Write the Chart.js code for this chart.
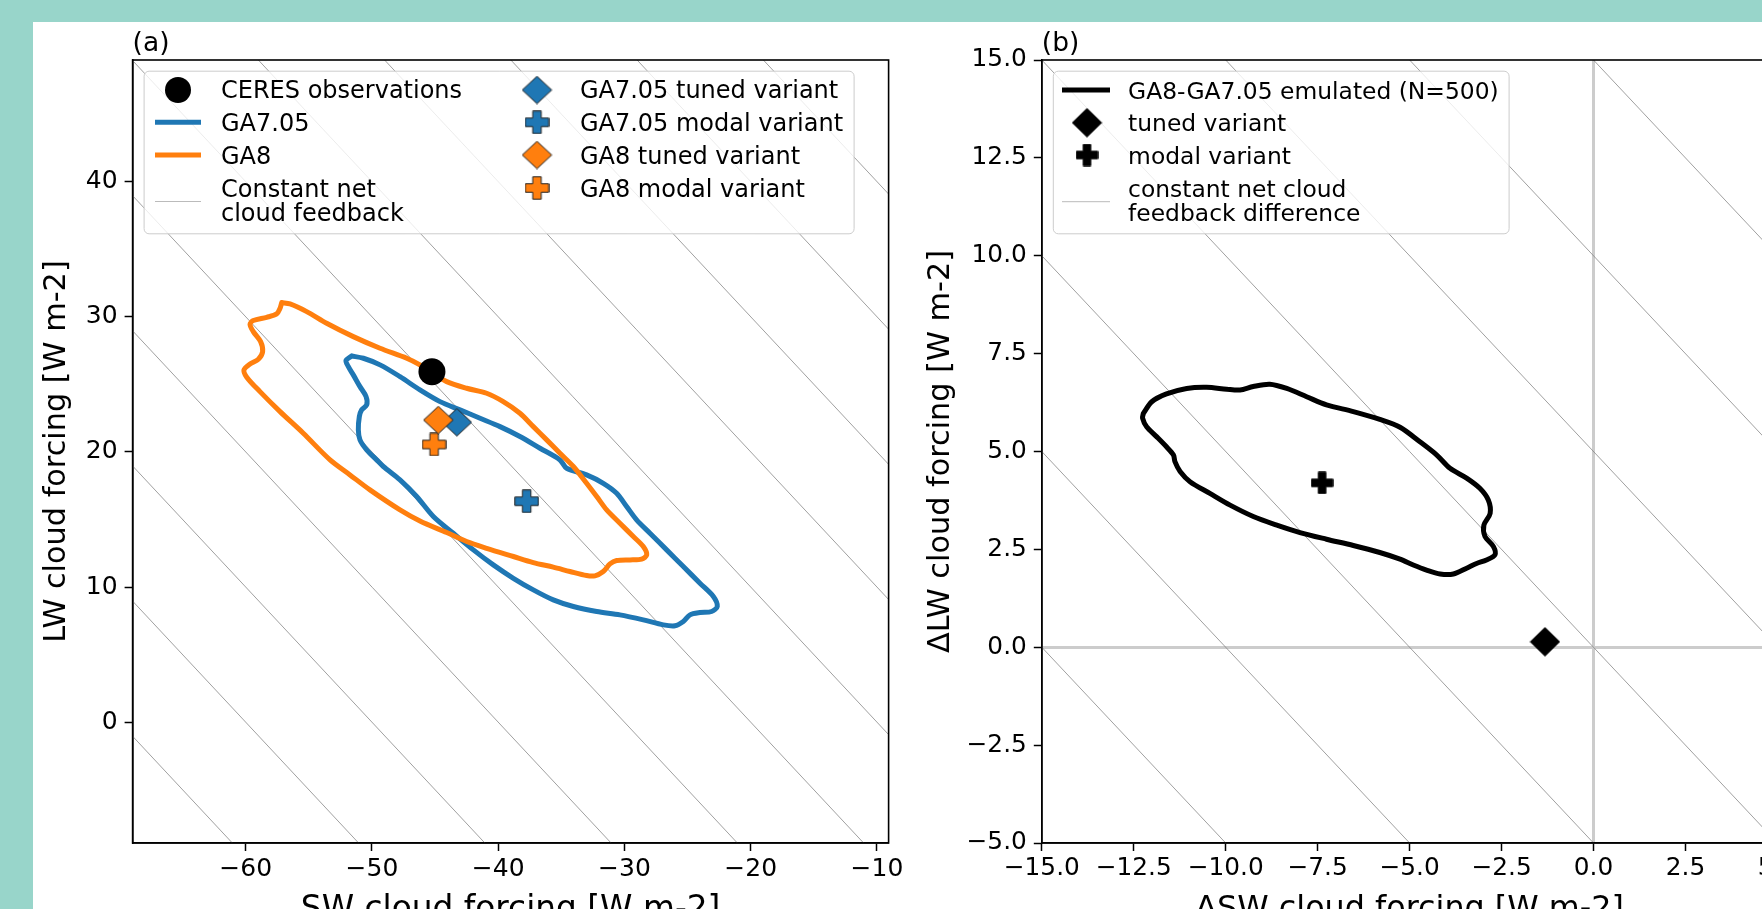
<!DOCTYPE html>
<html><head><meta charset="utf-8">
<script src="https://cdn.jsdelivr.net/npm/chart.js@4.4.1/dist/chart.umd.min.js"></script>
<style>
html,body{margin:0;padding:0;width:1762px;height:909px;overflow:hidden;background:#98d5ca;}
#white{position:absolute;left:33px;top:22px;width:1729px;height:887px;background:#fff;}
#ca{position:absolute;left:33px;top:22px;}
#cb{position:absolute;left:917px;top:22px;}
</style></head><body>
<div id="white"></div>
<canvas id="ca" width="880" height="940"></canvas>
<canvas id="cb" width="940" height="940"></canvas>
<script>
// ---------------- data ----------------
const xTicksA = [-60, -50, -40, -30, -20, -10];
const yTicksA = [0, 10, 20, 30, 40];
const xLimA = [-68.96, -9.08];
const yLimA = [-8.94, 49.0];
const netLevelsA = [-70, -60, -50, -40, -30, -20, -10, 0, 10, 20, 30];

const xTicksB = [-15, -12.5, -10, -7.5, -5, -2.5, 0, 2.5, 5];
const yTicksB = [-5, -2.5, 0, 2.5, 5, 7.5, 10, 12.5, 15];
const xLimB = [-15, 5];
const yLimB = [-5, 15];
const netLevelsB = [-20, -15, -10, -5, 0, 5, 10, 15, 20];

const ceresObs = [[-45.25, 25.93]];
const ga705Tuned = [[-43.28, 22.19]];
const ga705Modal = [[-37.75, 16.35]];
const ga8Tuned = [[-44.75, 22.36]];
const ga8Modal = [[-45.08, 20.55]];
const diffTuned = [[-1.32, 0.14]];
const diffModal = [[-7.38, 4.20]];

const ga705Contour = [
 [-51.61,27.10],[-50.68,26.93],[-49.36,26.44],[-47.78,25.57],[-46.20,24.59],[-44.61,23.72],
 [-43.03,23.11],[-41.44,22.49],[-39.86,21.87],[-38.28,21.14],[-36.69,20.27],[-35.11,19.41],
 [-34.58,18.79],[-33.00,18.30],[-31.68,17.68],[-30.62,16.94],[-29.83,15.96],[-29.04,14.97],
 [-27.98,13.98],[-26.66,12.75],[-25.34,11.52],[-24.02,10.28],[-22.96,9.30],[-22.65,8.56],
 [-23.10,8.19],[-24.02,8.11],[-24.81,7.94],[-25.34,7.45],[-26.00,7.13],[-26.92,7.20],
 [-28.51,7.57],[-30.36,7.94],[-32.20,8.19],[-34.05,8.56],[-35.64,9.05],[-37.22,9.79],
 [-38.80,10.65],[-40.39,11.64],[-41.97,12.75],[-43.56,13.98],[-45.14,15.22],[-46.46,16.70],
 [-47.78,17.93],[-49.10,18.92],[-49.63,19.41],[-50.42,20.15],[-50.95,20.89],[-51.08,21.63],
 [-51.00,22.62],[-50.82,23.11],[-50.42,23.48],[-50.47,24.10],[-50.95,24.83],[-51.48,25.70],
 [-51.87,26.31],[-52.06,26.76]
];
const ga8Contour = [
 [-57.15,31.05],[-56.49,30.95],[-55.17,30.38],[-53.59,29.52],[-51.48,28.53],[-49.36,27.67],
 [-47.25,26.93],[-46.20,26.44],[-45.14,25.82],[-44.08,25.20],[-42.50,24.71],[-40.92,24.34],
 [-39.60,23.72],[-38.28,22.86],[-37.22,21.87],[-36.16,20.89],[-35.11,19.90],[-34.05,18.92],
 [-33.00,17.68],[-32.20,16.70],[-31.41,15.71],[-30.36,14.72],[-29.30,13.74],[-28.51,13.00],
 [-28.24,12.38],[-28.64,12.06],[-29.56,12.01],[-30.62,11.96],[-31.15,11.71],[-31.68,11.15],
 [-32.34,10.83],[-33.00,10.85],[-34.32,11.15],[-35.64,11.47],[-37.22,11.81],[-38.80,12.26],
 [-40.92,12.87],[-42.50,13.37],[-44.08,14.03],[-46.20,14.89],[-47.78,15.71],[-50.16,17.19],
 [-51.74,18.30],[-53.32,19.41],[-55.44,21.38],[-57.28,22.98],[-58.87,24.46],[-59.92,25.53],
 [-60.14,26.07],[-59.66,26.51],[-59.00,26.86],[-58.66,27.42],[-58.82,28.16],[-59.40,28.90],
 [-59.66,29.45],[-59.40,29.72],[-58.34,29.96],[-57.55,30.21],[-57.28,30.63]
];
const diffContour = [
 [-12.24,5.97],[-12.01,6.27],[-11.61,6.47],[-11.06,6.61],[-10.52,6.64],[-9.97,6.59],[-9.61,6.57],
 [-9.25,6.66],[-8.80,6.72],[-8.34,6.61],[-7.80,6.40],[-7.26,6.19],[-6.53,6.02],[-5.81,5.82],
 [-5.26,5.62],[-4.72,5.25],[-4.26,4.91],[-3.90,4.57],[-3.45,4.32],[-3.09,4.06],[-2.86,3.76],
 [-2.81,3.42],[-2.98,3.12],[-2.95,2.83],[-2.72,2.57],[-2.68,2.36],[-2.91,2.23],[-3.18,2.14],
 [-3.45,2.02],[-3.81,1.87],[-4.17,1.87],[-4.54,1.97],[-4.90,2.10],[-5.26,2.25],[-5.81,2.42],
 [-6.53,2.60],[-7.26,2.76],[-7.98,2.93],[-8.61,3.12],[-9.25,3.34],[-9.88,3.63],[-10.43,3.93],
 [-10.97,4.23],[-11.24,4.49],[-11.38,4.74],[-11.42,4.91],[-11.61,5.12],[-11.88,5.38],
 [-12.15,5.63],[-12.26,5.85]
];

// ---------------- helpers ----------------
const FONT = "'DejaVu Sans', sans-serif";
const BLUE = '#1f77b4', ORANGE = '#ff7f0e';
const pts = arr => arr.map(([x, y]) => ({x, y}));
const loop = arr => pts(arr.concat([arr[0]]));
const netLine = (c, xl) => [{x: xl[0], y: c - xl[0]}, {x: xl[1], y: c - xl[1]}];

function makeDiamond(fill, w, h, edge) {
  const c = document.createElement('canvas'); c.width = w; c.height = h;
  const g = c.getContext('2d'); const e = 0.8;
  g.beginPath(); g.moveTo(w/2, e); g.lineTo(w-e, h/2); g.lineTo(w/2, h-e); g.lineTo(e, h/2); g.closePath();
  g.fillStyle = fill; g.fill(); g.lineWidth = 1; g.strokeStyle = edge; g.stroke();
  return c;
}
function makePlus(fill, w, h, t, edge) {
  const c = document.createElement('canvas'); c.width = w; c.height = h;
  const g = c.getContext('2d'); const cx = w/2, cy = h/2, a = t/2, e = 0.8;
  g.beginPath();
  g.moveTo(cx-a, e); g.lineTo(cx+a, e); g.lineTo(cx+a, cy-a); g.lineTo(w-e, cy-a); g.lineTo(w-e, cy+a);
  g.lineTo(cx+a, cy+a); g.lineTo(cx+a, h-e); g.lineTo(cx-a, h-e); g.lineTo(cx-a, cy+a); g.lineTo(e, cy+a);
  g.lineTo(e, cy-a); g.lineTo(cx-a, cy-a); g.closePath();
  g.fillStyle = fill; g.fill(); g.lineWidth = 1; g.strokeStyle = edge; g.stroke();
  return c;
}
const imgBlueD = makeDiamond(BLUE, 31, 29, '#222');
const imgOrangeD = makeDiamond(ORANGE, 31, 29, '#222');
const imgBlueP = makePlus(BLUE, 25, 24, 8.5, '#222');
const imgOrangeP = makePlus(ORANGE, 25, 24, 8.5, '#222');
const imgBlackD = makeDiamond('#000', 31, 30, '#000');
const imgBlackP = makePlus('#000', 23, 23, 7.5, '#000');

const fmtA = v => (v < 0 ? '\u2212' : '') + Math.abs(v);
const fmtB = v => (v < 0 ? '\u2212' : '') + Math.abs(v).toFixed(1);

function axis(lim, ticks, fmt, title, horiz, size, zeroGrid, tickSize, titleSize, titlePad) {
  return {
    type: 'linear', min: lim[0], max: lim[1],
    afterBuildTicks: a => { a.ticks = ticks.map(v => ({value: v})); },
    afterFit: s => {
      if (horiz) { s.height = size; s.paddingLeft = 0; s.paddingRight = 0; }
      else { s.width = size; s.paddingTop = 0; s.paddingBottom = 0; }
    },
    ticks: {font: {family: FONT, size: tickSize}, color: '#000', padding: horiz ? 3 : 7,
            maxRotation: 0, minRotation: 0, autoSkip: false, callback: v => fmt(v)},
    grid: {
      drawOnChartArea: !!zeroGrid,
      color: c => (zeroGrid && c.tick && c.tick.value === 0) ? '#cccccc' : 'rgba(0,0,0,0)',
      lineWidth: c => (zeroGrid && c.tick && c.tick.value === 0) ? 3 : 1,
      drawTicks: true, tickLength: 8, tickColor: '#000', tickWidth: 1.5
    },
    border: {display: true, color: '#000', width: 1.6},
    title: {display: true, text: title, font: {family: FONT, size: titleSize}, color: '#000',
            padding: horiz ? {top: 0, bottom: titlePad} : {top: titlePad, bottom: 0}}
  };
}

const spines = {
  id: 'spines',
  afterDatasetsDraw(chart) {
    const {ctx, chartArea: a} = chart;
    ctx.save(); ctx.strokeStyle = '#000'; ctx.lineWidth = 1.6;
    ctx.strokeRect(a.left, a.top, a.right - a.left, a.bottom - a.top); ctx.restore();
  }
};

function legendPlugin(id, label, spec) {
  return {
    id,
    afterDraw(chart) {
      const {ctx, chartArea: a} = chart;
      const L = a.left, T = a.top;
      ctx.save();
      ctx.font = '26.5px ' + FONT; ctx.fillStyle = '#000'; ctx.textAlign = 'left'; ctx.textBaseline = 'alphabetic';
      ctx.fillText(label, L, T - 9.5);
      const b = spec.box;
      ctx.beginPath();
      ctx.roundRect(L + b[0] + 0.5, T + b[1] + 0.5, b[2], b[3], 5);
      ctx.fillStyle = 'rgba(255,255,255,0.8)'; ctx.fill();
      ctx.strokeStyle = '#cccccc'; ctx.lineWidth = 1; ctx.stroke();
      for (const it of spec.items) {
        if (it.line) {
          ctx.beginPath(); ctx.moveTo(L + it.line[0], T + it.y); ctx.lineTo(L + it.line[1], T + it.y);
          ctx.strokeStyle = it.color; ctx.lineWidth = it.width; ctx.lineCap = 'butt'; ctx.stroke();
        } else if (it.circle) {
          ctx.beginPath(); ctx.arc(L + it.mx, T + it.y, it.circle, 0, Math.PI * 2);
          ctx.fillStyle = it.color; ctx.fill();
        } else if (it.img) {
          ctx.drawImage(it.img, L + it.mx - it.img.width / 2, T + it.y - it.img.height / 2);
        }
        ctx.font = spec.font; ctx.fillStyle = '#000'; ctx.textAlign = 'left'; ctx.textBaseline = 'alphabetic';
        it.text.forEach((t, i) => ctx.fillText(t, L + it.tx, T + it.base[i]));
      }
      ctx.restore();
    }
  };
}

const legendA = {
  font: '24px ' + FONT,
  box: [11, 10.7, 710, 162.6],
  items: [
    {circle: 13, color: '#000', mx: 45.4, y: 30, tx: 88.4, base: [38.3], text: ['CERES observations']},
    {line: [22.4, 68.4], color: BLUE, width: 5, y: 62.3, tx: 88.4, base: [70.8], text: ['GA7.05']},
    {line: [22.4, 68.4], color: ORANGE, width: 5, y: 95, tx: 88.4, base: [103.5], text: ['GA8']},
    {line: [22.4, 68.4], color: '#bbbbbb', width: 1, y: 141.5, tx: 88.4, base: [136.5, 161], text: ['Constant net', 'cloud feedback']},
    {img: imgBlueD, mx: 404.4, y: 30, tx: 447.3, base: [38.3], text: ['GA7.05 tuned variant']},
    {img: imgBlueP, mx: 404.4, y: 62.3, tx: 447.3, base: [70.8], text: ['GA7.05 modal variant']},
    {img: imgOrangeD, mx: 404.4, y: 95, tx: 447.3, base: [103.5], text: ['GA8 tuned variant']},
    {img: imgOrangeP, mx: 404.4, y: 128, tx: 447.3, base: [136.5], text: ['GA8 modal variant']}
  ]
};
const legendB = {
  font: '23.4px ' + FONT,
  box: [11, 10.7, 455.8, 162.6],
  items: [
    {line: [20.2, 68.2], color: '#000', width: 5, y: 30, tx: 86.3, base: [38.5], text: ['GA8-GA7.05 emulated (N=500)']},
    {img: imgBlackD, mx: 45.2, y: 62.7, tx: 86.3, base: [71.2], text: ['tuned variant']},
    {img: imgBlackP, mx: 45.2, y: 95, tx: 86.3, base: [103.5], text: ['modal variant']},
    {line: [20.2, 68.2], color: '#bbbbbb', width: 1, y: 141.7, tx: 86.3, base: [136.5, 160.8], text: ['constant net cloud', 'feedback difference']}
  ]
};

const lineDs = (levels, xl) => levels.map(c => ({
  data: netLine(c, xl), showLine: true, borderColor: 'rgba(128,128,128,0.75)', borderWidth: 1,
  pointRadius: 0, order: 10
}));
const contourDs = (arr, color) => ({
  data: loop(arr), showLine: true, borderColor: color, borderWidth: 5, pointRadius: 0,
  tension: 0.3, borderJoinStyle: 'round', borderCapStyle: 'round', fill: false
});
const markerDs = (arr, style, order, extra) => Object.assign({
  data: pts(arr), showLine: false, pointStyle: style, pointRadius: 10, pointBorderWidth: 0, order
}, extra || {});

Chart.defaults.font.family = FONT;

new Chart(document.getElementById('ca'), {
  type: 'scatter',
  data: {datasets: [
    ...lineDs(netLevelsA, xLimA),
    Object.assign(contourDs(ga705Contour, BLUE), {order: 3}),
    Object.assign(contourDs(ga8Contour, ORANGE), {order: 2}),
    markerDs(ceresObs, 'circle', 1, {pointRadius: 13.5, pointBackgroundColor: '#000', pointBorderColor: '#000'}),
    markerDs(ga705Tuned, imgBlueD, 1),
    markerDs(ga705Modal, imgBlueP, 1),
    markerDs(ga8Tuned, imgOrangeD, 0),
    markerDs(ga8Modal, imgOrangeP, 0)
  ]},
  options: {
    responsive: false, animation: false, events: [], devicePixelRatio: 1,
    layout: {padding: {left: 0, top: 38, right: 24.4, bottom: 0}},
    plugins: {legend: {display: false}, tooltip: {enabled: false}},
    scales: {
      x: axis(xLimA, xTicksA, fmtA, 'SW cloud forcing [W m-2]', true, 119, false, 25, 32.8, 31.7),
      y: axis(yLimA, yTicksA, fmtA, 'LW cloud forcing [W m-2]', false, 99.6, false, 25, 30.3, 6)
    }
  },
  plugins: [spines, legendPlugin('legA', '(a)', legendA)]
});

new Chart(document.getElementById('cb'), {
  type: 'scatter',
  data: {datasets: [
    ...lineDs(netLevelsB, xLimB),
    Object.assign(contourDs(diffContour, '#000'), {order: 2}),
    markerDs(diffTuned, imgBlackD, 0),
    markerDs(diffModal, imgBlackP, 0)
  ]},
  options: {
    responsive: false, animation: false, events: [], devicePixelRatio: 1,
    layout: {padding: {left: 0, top: 38, right: 79.6, bottom: 0}},
    plugins: {legend: {display: false}, tooltip: {enabled: false}},
    scales: {
      x: axis(xLimB, xTicksB, fmtB, '\u0394SW cloud forcing [W m-2]', true, 119, true, 24.8, 31.8, 32.7),
      y: axis(yLimB, yTicksB, fmtB, '\u0394LW cloud forcing [W m-2]', false, 124.8, true, 24.8, 30.3, 6)
    }
  },
  plugins: [spines, legendPlugin('legB', '(b)', legendB)]
});
</script>
</body></html>
